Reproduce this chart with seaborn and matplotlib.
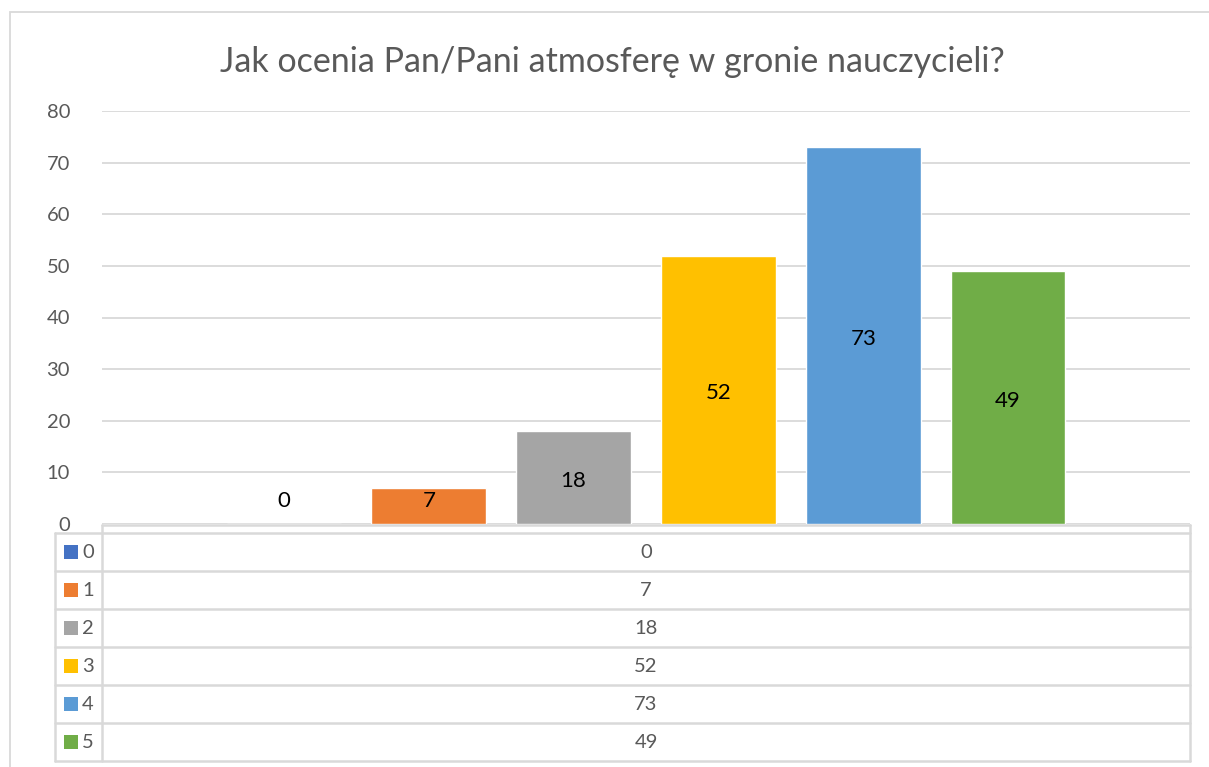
import matplotlib
matplotlib.use("Agg")
import matplotlib.pyplot as plt
import seaborn as sns
import pandas as pd
from matplotlib.patches import Rectangle

# data
title = "Jak ocenia Pan/Pani atmosferę w gronie nauczycieli?"
categories = ["0", "1", "2", "3", "4", "5"]
values = [0, 7, 18, 52, 73, 49]
colors = ["#4472C4", "#ED7D31", "#A5A5A5", "#FFC000", "#5B9BD5", "#70AD47"]
y_ticks = [0, 10, 20, 30, 40, 50, 60, 70, 80]

W, H = 1209, 767
GRID = "#D9D9D9"
TXT = "#595959"

sns.set_theme(style="white")
plt.rcParams["font.family"] = ["Lato", "DejaVu Sans"]

fig = plt.figure(figsize=(W / 100, H / 100), dpi=100)


def px(x0, y0, x1, y1):
    # pixel box (top-left origin) -> figure fraction rect
    return [x0 / W, 1 - y1 / H, (x1 - x0) / W, (y1 - y0) / H]


# overlay axes in pixel coordinates for border and data table
over = fig.add_axes([0, 0, 1, 1])
over.set_xlim(0, W)
over.set_ylim(H, 0)
over.axis("off")

ax = fig.add_axes(px(102, 111, 1190, 524))
df = pd.DataFrame({"cat": categories, "val": values})
sns.barplot(data=df, x="cat", y="val", hue="cat", palette=colors,
            width=0.794, legend=False, ax=ax, saturation=1)
ax.set_xlim(-1.257, 6.257)
ax.set_ylim(0, 80)
ax.set_yticks(y_ticks)
ax.set_xticks([])
ax.set_xlabel("")
ax.set_ylabel("")
ax.yaxis.grid(True, color=GRID, linewidth=1.3)
ax.set_axisbelow(True)
for s in ax.spines.values():
    s.set_visible(False)
ax.tick_params(axis="y", length=0, pad=23, labelsize=14.5, labelcolor=TXT)
# labels centred in the bar, pushed up for short bars like Excel does
for i, v in enumerate(values):
    ax.text(i, max(v / 2, 5) - 0.6, str(v), ha="center", va="center",
            fontsize=16, color="black")

# title
fig.text(612 / W, 1 - 62 / H, title, ha="center", va="center",
         fontsize=24.5, color=TXT)

# outer chart border (left and top)
over.plot([10, 10, W], [H, 12, 12], color=GRID, linewidth=1.3,
          solid_joinstyle="miter")

# data table
top, head, row_h = 525, 533, 38
left, mid, right = 55, 102, 1190
n = len(categories)
bottom = head + row_h * n
lw = 1.8
over.plot([mid, right], [top, top], color=GRID, lw=lw)
over.plot([mid, mid], [top, bottom], color=GRID, lw=lw)
over.plot([right, right], [top, bottom], color=GRID, lw=lw)
over.plot([left, left], [head, bottom], color=GRID, lw=lw)
for i in range(n + 1):
    y = head + row_h * i
    over.plot([left, right], [y, y], color=GRID, lw=lw)
for i, (c, v, col) in enumerate(zip(categories, values, colors)):
    yc = head + row_h * i + row_h / 2
    over.add_patch(Rectangle((64, yc - 7), 14, 14, color=col, lw=0))
    over.text(82, yc, c, ha="left", va="center", fontsize=14.5, color=TXT)
    over.text((mid + right) / 2, yc, str(v), ha="center", va="center",
              fontsize=14.5, color=TXT)

fig.savefig("out.png", dpi=100)
